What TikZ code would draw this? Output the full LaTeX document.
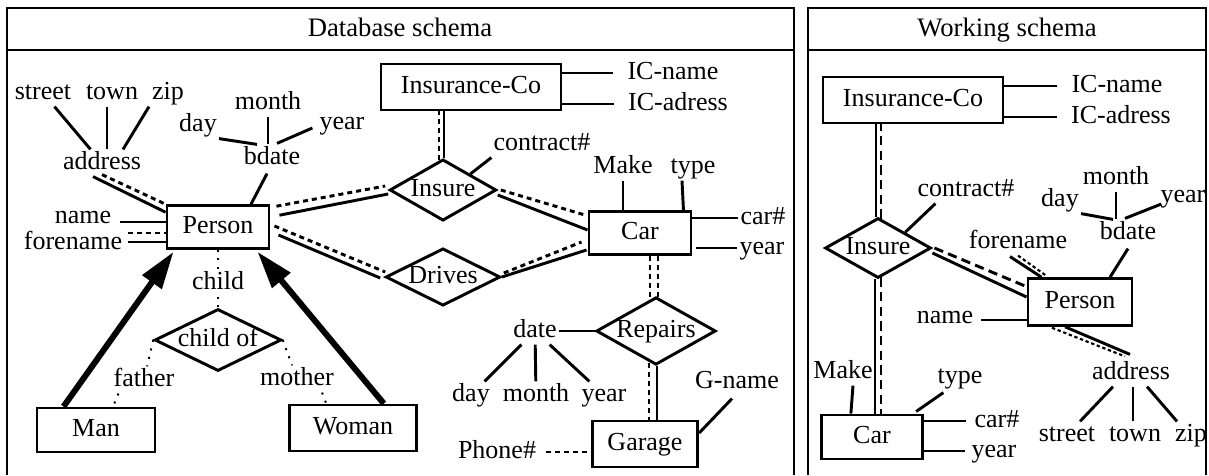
\documentclass[tikz,border=0pt]{standalone}
\usepackage{fontspec}
\setmainfont{Liberation Serif}
\usetikzlibrary{positioning,shapes.geometric,arrows.meta,calc}

\begin{document}
\begin{tikzpicture}[x=0.75pt,y=-0.75pt,
		% Shape styles
		entity/.style={rectangle, draw=black, line width=2.2pt, inner sep=0pt,
			text height=13pt, text depth=4pt, font=\fontsize{19.5}{22}\selectfont},
		relation/.style={diamond, draw=black, line width=2.2pt, inner sep=0pt,
			text height=13pt, text depth=4pt, font=\fontsize{19.5}{22}\selectfont},
		attrib/.style={inner sep=1.5pt, text height=13pt, text depth=4pt,
			font=\fontsize{19.5}{22}\selectfont},
		paneltitle/.style={inner sep=1.5pt, text height=13.5pt, text depth=4pt,
			font=\fontsize{20}{24}\selectfont},
		% Line styles
		link/.style={line width=2.2pt},
		dashlink/.style={line width=2.2pt, dash pattern=on 3.75pt off 3pt},
		longdash/.style={line width=2.2pt, dash pattern=on 7pt off 4pt},
		finedot/.style={line width=1.6pt, dash pattern=on 2.5pt off 2pt},
		dotlink/.style={line width=1.5pt, dash pattern=on 1.5pt off 5pt},
		isa/.style={line width=4.5pt, -{Triangle[length=28pt,width=17pt]}},
		panelframe/.style={line width=2.2pt}
		]
		
		\useasboundingbox (0,0) rectangle (1209,475);
		
		% Panels
		\draw[panelframe] (7,475) -- (7,8) -- (794,8) -- (794,475);
		\draw[panelframe] (7,50) -- (794,50);
		\draw[panelframe] (808,475) -- (808,8) -- (1206,8) -- (1206,475);
		\draw[panelframe] (808,50) -- (1206,50);
		\node[paneltitle] (db_title) at (400,30) {Database schema};
		\node[paneltitle] (ws_title) at (1007,30) {Working schema};
		
		% Database schema: entities
		\node[entity, minimum width=76.5pt, minimum height=32pt] (db_person) at (218,227) {Person};
		\node[entity, minimum width=135pt, minimum height=34.5pt] (db_insco) at (471,87) {Insurance-Co};
		\node[entity, minimum width=76.5pt, minimum height=32pt] (db_car) at (640,233) {Car};
		\node[entity, minimum width=79pt, minimum height=34.5pt] (db_garage) at (645,444) {Garage};
		\node[entity, minimum width=88.5pt, minimum height=33pt] (db_man) at (96,430) {Man};
		\node[entity, minimum width=95pt, minimum height=34.5pt] (db_woman) at (353,428) {Woman};
		
		% Database schema: relationships
		\node[relation, aspect=1.75, minimum width=80pt, minimum height=46pt] (db_insure) at (443,190) {Insure};
		\node[relation, aspect=2, minimum width=84pt, minimum height=42pt] (db_drives) at (443,277) {Drives};
		\node[relation, aspect=1.77, minimum width=88pt, minimum height=49.5pt] (db_repairs) at (656,331) {Repairs};
		\node[relation, aspect=2.05, minimum width=95pt, minimum height=46.5pt] (db_childof) at (218,340) {child of};
		
		% Database schema: attributes
		\node[attrib] (db_street) at (43,93) {street};
		\node[attrib] (db_town) at (112,93) {town};
		\node[attrib] (db_zip) at (168,93) {zip};
		\node[attrib] (db_address) at (102,163) {address};
		\node[attrib] (db_month) at (268,103) {month};
		\node[attrib] (db_day) at (198,125) {day};
		\node[attrib] (db_year) at (342,123) {year};
		\node[attrib] (db_bdate) at (272,158) {bdate};
		\node[attrib] (db_name) at (83,217) {name};
		\node[attrib] (db_forename) at (73,243) {forename};
		\node[attrib] (db_icname) at (673,73) {IC-name};
		\node[attrib] (db_icadress) at (678,104) {IC-adress};
		\node[attrib] (db_contract) at (542,144) {contract\#};
		\node[attrib] (db_make) at (623,167) {Make};
		\node[attrib] (db_type) at (693,167) {type};
		\node[attrib] (db_carno) at (763,218) {car\#};
		\node[attrib] (db_caryear) at (762,248) {year};
		\node[attrib] (db_date) at (535,331) {date};
		\node[attrib] (db_rday) at (471,395) {day};
		\node[attrib] (db_rmonth) at (536,395) {month};
		\node[attrib] (db_ryear) at (604,395) {year};
		\node[attrib] (db_gname) at (737,382) {G-name};
		\node[attrib] (db_phone) at (497,452) {Phone\#};
		\node[attrib] (db_child) at (218,283) {child};
		\node[attrib] (db_father) at (144,380) {father};
		\node[attrib] (db_mother) at (297,379) {mother};
		
		% Database schema: Person attributes
		\draw[link] (db_street) -- (db_address);
		\draw[link] ($(db_town.south)+(-5,0)$) -- ($(db_address.north)+(5,0)$);
		\draw[link] ($(db_zip.south)+(-19,0)$) -- ($(db_address.north)+(21,0)$);
		\draw[link] ($(db_address.south)+(-9,0)$) -- ($(db_person.north west)+(0,8)$);
		\draw[dashlink] ($(db_address.south)+(0,-2)$) -- (db_person.north west);
		\draw[link] (db_day.south east) -- ($(db_bdate.north)+(-15,0)$);
		\draw[link] (db_month) -- (db_month |- db_bdate.north);
		\draw[link] ($(db_year.west)+(-5,5)$) -- ($(db_bdate.north)+(5,-1)$);
		\draw[link] ($(db_bdate.south)+(-5,2)$) -- ($(db_person.north)+(33,0)$);
		\draw[link] ($(db_name.east)+(7,5)$) -- ($(db_person.west)+(0,-5)$);
		\draw[link] ($(db_forename.east)+(4,-1)$) -- ($(db_person.west)+(0,15)$);
		\draw[dashlink] ($(db_forename.east)+(4,-10)$) -- ($(db_person.west)+(0,6)$);
		
		% Database schema: Insure and Drives
		\draw[dashlink] ($(db_person.north east)+(6,2)$) -- ($(db_insure.west)+(-3,-4)$);
		\draw[link] ($(db_person.north east)+(9,11)$) -- ($(db_insure.west)+(0,4)$);
		\draw[dashlink] ($(db_person.east)+(4,-1)$) -- ($(db_drives.west)+(1,-5)$);
		\draw[link] ($(db_person.east)+(8,8)$) -- ($(db_drives.west)+(-4,1)$);
		\draw[dashlink] ($(db_insure.east)+(3,0)$) -- ($(db_car.north west)+(-2,5)$);
		\draw[link] ($(db_insure.east)+(0,5)$) -- ($(db_car.west)+(0,-3)$);
		\draw[dashlink] ($(db_drives.east)+(2,-4)$) -- ($(db_car.west)+(-6,9)$);
		\draw[link] (db_drives.east) -- ($(db_car.west)+(-1,17)$);
		\draw[dashlink] ($(db_insure.north)+(-4,2)$) -- ($(db_insure.north |- db_insco.south)+(-4,0)$);
		\draw[link] ($(db_insure.north)+(1,0)$) -- ($(db_insure.north |- db_insco.south)+(1,0)$);
		\draw[link] (db_insure.north east) -- (db_contract.south west);
		\draw[link] (db_icname.west -| db_insco.east) -- ($(db_icname.west)+(-12,0)$);
		\draw[link] (db_icadress.west -| db_insco.east) -- ($(db_icadress.west)+(-12,0)$);
		
		% Database schema: Car and Repairs
		\draw[link] (db_make) -- (db_make |- db_car.north);
		\draw[link] ($(db_type.south)+(-11,0)$) -- ($(db_car.north east)+(-9,0)$);
		\draw[link] (db_carno.west -| db_car.east) -- (db_carno.west);
		\draw[link] ($(db_caryear.west -| db_car.east)+(4,0)$) -- (db_caryear.west);
		\draw[dashlink] ($(db_repairs.north |- db_car.south)+(-6,0)$) -- ($(db_repairs.north)+(-6,3)$);
		\draw[dashlink] ($(db_repairs.north |- db_car.south)+(2,0)$) -- ($(db_repairs.north)+(2,1)$);
		\draw[link] (db_date) -- (db_repairs.west);
		\draw[link] (db_date) -- (db_rday);
		\draw[link] (db_date) -- (db_rmonth);
		\draw[link] (db_date) -- (db_ryear);
		\draw[dashlink] ($(db_repairs.south)+(-7,-3)$) -- ($(db_repairs.south |- db_garage.north)+(-7,0)$);
		\draw[link] ($(db_repairs.south)+(1,0)$) -- ($(db_repairs.south |- db_garage.north)+(1,0)$);
		\draw[link] ($(db_gname.south)+(-5,3)$) -- ($(db_garage.east)+(0,-11)$);
		\draw[dashlink] ($(db_phone.east)+(8,0)$) -- (db_phone.east -| db_garage.west);
		
		% Database schema: child of, Man and Woman
		\draw[dotlink] (db_person) -- (db_child);
		\draw[dotlink] (db_child) -- (db_childof);
		\draw[dotlink] (db_childof.west) -- (db_father);
		\draw[dotlink] ($(db_father.south west)+(7,0)$) -- ($(db_man.north)+(17,0)$);
		\draw[dotlink] (db_childof.east) -- (db_mother);
		\draw[dotlink] ($(db_mother.south east)+(-14,0)$) -- ($(db_woman.north west)+(38,0)$);
		\draw[isa] ($(db_man.north west)+(28,0)$) -- ($(db_person.south west)+(8,2)$);
		\draw[isa] ($(db_woman.north east)+(-34,0)$) -- ($(db_person.south east)+(-13,2)$);
		
		% Working schema: nodes
		\node[entity, minimum width=135pt, minimum height=34.5pt] (ws_insco) at (913,100) {Insurance-Co};
		\node[entity, minimum width=78pt, minimum height=35pt] (ws_person) at (1080,302) {Person};
		\node[entity, minimum width=76pt, minimum height=33pt] (ws_car) at (872,437) {Car};
		\node[relation, aspect=1.75, minimum width=79.5pt, minimum height=45pt] (ws_insure) at (878,248) {Insure};
		\node[attrib] (ws_icname) at (1117,86) {IC-name};
		\node[attrib] (ws_icadress) at (1121,117) {IC-adress};
		\node[attrib] (ws_contract) at (966,190) {contract\#};
		\node[attrib] (ws_month) at (1116,178) {month};
		\node[attrib] (ws_day) at (1060,200) {day};
		\node[attrib] (ws_year) at (1183,196) {year};
		\node[attrib] (ws_bdate) at (1128,233) {bdate};
		\node[attrib] (ws_forename) at (1018,242) {forename};
		\node[attrib] (ws_name) at (945,317) {name};
		\node[attrib] (ws_address) at (1131,373) {address};
		\node[attrib] (ws_street) at (1067,435) {street};
		\node[attrib] (ws_town) at (1135,435) {town};
		\node[attrib] (ws_zip) at (1191,435) {zip};
		\node[attrib] (ws_make) at (843,372) {Make};
		\node[attrib] (ws_type) at (960,377) {type};
		\node[attrib] (ws_carno) at (997,421) {car\#};
		\node[attrib] (ws_caryear) at (994,451) {year};
		
		% Working schema: Insurance-Co, Insure and Car
		\draw[link] (ws_icname.west -| ws_insco.east) -- ($(ws_icname.west)+(-12,0)$);
		\draw[link] (ws_icadress.west -| ws_insco.east) -- ($(ws_icadress.west)+(-12,0)$);
		\draw[link] ($(ws_insure.north)+(-2,0)$) -- ($(ws_insure.north |- ws_insco.south)+(-2,0)$);
		\draw[longdash] ($(ws_insure.north)+(3,2)$) -- ($(ws_insure.north |- ws_insco.south)+(3,0)$);
		\draw[link] ($(ws_insure.south)+(-3,0)$) -- ($(ws_insure.south |- ws_car.north)+(-3,0)$);
		\draw[longdash] ($(ws_insure.south)+(3,-2)$) -- ($(ws_insure.south |- ws_car.north)+(3,0)$);
		\draw[link] (ws_insure.north east) -- ($(ws_contract.south west)+(20,0)$);
		\draw[longdash] ($(ws_insure.east)+(2,0)$) -- ($(ws_person.north west)+(-1,9)$);
		\draw[link] ($(ws_insure.east)+(0,5)$) -- ($(ws_person.west)+(0,-5)$);
		\draw[link] ($(ws_make.south)+(10,0)$) -- ($(ws_car.north west)+(31,0)$);
		\draw[link] ($(ws_type.south west)+(8,2)$) -- ($(ws_car.north east)+(-8,-2)$);
		\draw[link] (ws_carno.west -| ws_car.east) -- ($(ws_carno.west)+(-6,0)$);
		\draw[link] (ws_caryear.west -| ws_car.east) -- ($(ws_caryear.west)+(-4,0)$);
		
		% Working schema: Person attributes
		\draw[link] (ws_day.south east) -- ($(ws_bdate.north)+(-15,0)$);
		\draw[link] (ws_month) -- (ws_month |- ws_bdate.north);
		\draw[link] ($(ws_year.west)+(3,8)$) -- ($(ws_bdate.north)+(-3,-1)$);
		\draw[link] ($(ws_bdate.south)+(0,2)$) -- ($(ws_person.north)+(30,0)$);
		\draw[link] ($(ws_forename.south)+(-8,1)$) -- ($(ws_person.north west)+(15,0)$);
		\draw[finedot] (ws_forename.south) -- ($(ws_person.north west)+(19,-2)$);
		\draw[link] ($(ws_name.east)+(6,3)$) -- ($(ws_person.west)+(0,18)$);
		\draw[link] ($(ws_person.south)+(-15,0)$) -- ($(ws_address.north)+(-1,-5)$);
		\draw[finedot] ($(ws_person.south)+(-28,1)$) -- ($(ws_address.north)+(-6,-3)$);
		\draw[link] ($(ws_address.south)+(-18,0)$) -- ($(ws_street.north)+(13,0)$);
		\draw[link] ($(ws_address.south)+(2,0)$) -- ($(ws_town.north)+(-2,0)$);
		\draw[link] ($(ws_address.south)+(16,0)$) -- ($(ws_zip.north)+(-14,0)$);
		
	\end{tikzpicture}
\end{document}
